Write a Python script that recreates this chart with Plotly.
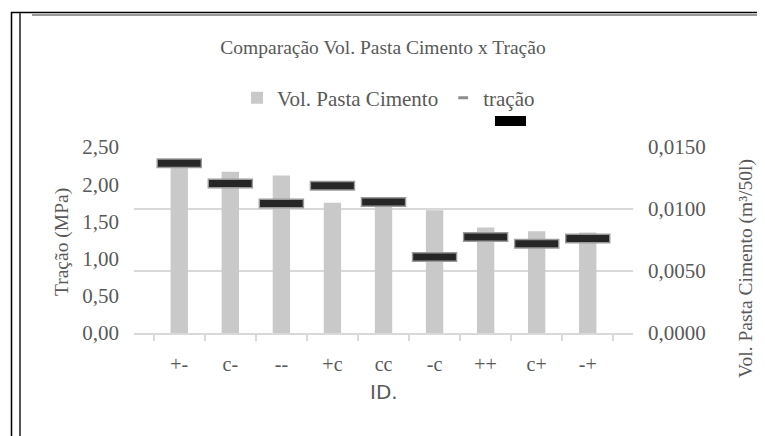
import plotly.graph_objects as go

categories = ["+-", "c-", "--", "+c", "cc", "-c", "++", "c+", "-+"]
vol_pasta = [0.0134, 0.0130, 0.0127, 0.0105, 0.0106, 0.0099, 0.0085, 0.0082, 0.0081]
tracao = [2.28, 2.01, 1.74, 1.98, 1.76, 1.02, 1.29, 1.20, 1.27]
left_ticks = [0, 0.5, 1.0, 1.5, 2.0, 2.5]
right_ticks = [0, 0.005, 0.010, 0.015]

SERIF = "Liberation Serif, Times New Roman, serif"
GRAY = "#595959"

fig = go.Figure()
fig.add_trace(go.Bar(
    x=categories, y=vol_pasta, name="Vol. Pasta Cimento",
    marker=dict(color="#c9c9c9", line=dict(width=0)), width=0.34, yaxis="y",
))
fig.add_trace(go.Scatter(
    x=categories, y=tracao, mode="markers", showlegend=False, yaxis="y2",
    marker=dict(symbol="line-ew", size=32.5, line=dict(width=10, color="#9a9a9a")),
    hoverinfo="skip",
))
fig.add_trace(go.Scatter(
    x=categories, y=tracao, mode="markers", name="tração", showlegend=False, yaxis="y2",
    marker=dict(symbol="line-ew", size=30.5, line=dict(width=7, color="#262626")),
))
fig.add_trace(go.Scatter(
    x=[None], y=[None], mode="markers", name="tração", yaxis="y2",
    marker=dict(symbol="line-ew", size=7, line=dict(width=3, color="#8c8c8c")),
))

# page offset of the figure (default body margin)
OFF = 8
PAGE_W, PAGE_H = 765, 436
W, H = PAGE_W - OFF, PAGE_H - OFF
# plot area in page pixels: x 134..633, y 147..333
L, T = 134 - OFF, 147 - OFF
R, B = PAGE_W - 633, PAGE_H - 333
pw, ph = W - L - R, H - T - B

def px_x(p):
    return (p - OFF - L) / pw

def px_y(p):
    return (H - B - (p - OFF)) / ph

shapes = [
    dict(type="rect", xref="paper", yref="paper", x0=px_x(495), x1=px_x(526),
         y0=px_y(126), y1=px_y(116), fillcolor="black", line=dict(width=0)),
    dict(type="line", xref="paper", yref="paper", x0=px_x(11), x1=px_x(765),
         y0=px_y(12.5), y1=px_y(12.5), line=dict(color="black", width=1.5)),
    dict(type="line", xref="paper", yref="paper", x0=px_x(11.5), x1=px_x(11.5),
         y0=px_y(12), y1=px_y(436), line=dict(color="black", width=1.5)),
    dict(type="line", xref="paper", yref="paper", x0=px_x(20), x1=px_x(20),
         y0=px_y(13), y1=px_y(436), line=dict(color="#555555", width=2)),
    dict(type="line", xref="paper", yref="paper", x0=px_x(32), x1=px_x(765),
         y0=px_y(15), y1=px_y(15), line=dict(color="#777777", width=1.5)),
]

annotations = [
    dict(text="Vol. Pasta Cimento (m³/50l)", xref="paper", yref="paper",
         x=px_x(746), y=px_y(269), textangle=-90, showarrow=False,
         xanchor="center", yanchor="middle", font=dict(family=SERIF, size=19.5, color=GRAY)),
    dict(text="Tração (MPa)", xref="paper", yref="paper",
         x=px_x(62), y=px_y(242), textangle=-90, showarrow=False,
         xanchor="center", yanchor="middle", font=dict(family=SERIF, size=19.5, color=GRAY)),
    dict(text="ID.", xref="paper", yref="paper",
         x=px_x(384), y=px_y(392), showarrow=False,
         xanchor="center", yanchor="middle",
         font=dict(family="DejaVu Sans, sans-serif", size=20, color=GRAY)),
]

fig.update_layout(
    width=W, height=H, margin=dict(l=L, r=R, t=T, b=B, autoexpand=False),
    paper_bgcolor="white", plot_bgcolor="white",
    separators=",.",
    font=dict(family=SERIF, color=GRAY, size=16),
    title=dict(text="Comparação Vol. Pasta Cimento x Tração", x=px_x(383), xanchor="center",
               xref="paper", y=1 - (47 - OFF) / H, yanchor="middle",
               font=dict(family=SERIF, size=19.5, color=GRAY)),
    legend=dict(orientation="h", x=px_x(237), xanchor="left", y=px_y(98), yanchor="middle",
                font=dict(family=SERIF, size=21, color=GRAY), bgcolor="rgba(0,0,0,0)",
                itemwidth=30, tracegroupgap=0),
    showlegend=True,
    bargap=0.5,
    xaxis=dict(type="category", showgrid=False, showline=True, linecolor="#d9d9d9", linewidth=1.5,
               ticks="outside", tickson="boundaries", ticklen=6, tickcolor="#d9d9d9", tickwidth=1.5,
               ticklabelstandoff=12,
               tickfont=dict(family=SERIF, size=20, color=GRAY)),
    yaxis=dict(side="right", range=[0, 0.015], tickvals=right_ticks, tickformat=".4f",
               showgrid=True, gridcolor="#d9d9d9", gridwidth=1.5, zeroline=False,
               ticklabelstandoff=14,
               tickfont=dict(family=SERIF, size=21, color=GRAY), ticks="", showline=False),
    yaxis2=dict(side="left", overlaying="y", range=[0, 2.5], tickvals=left_ticks, tickformat=".2f",
                showgrid=False, zeroline=False, showline=False, ticklabelstandoff=14,
                tickfont=dict(family=SERIF, size=21, color=GRAY)),
    shapes=shapes,
    annotations=annotations,
)

fig.write_html("out.html")
